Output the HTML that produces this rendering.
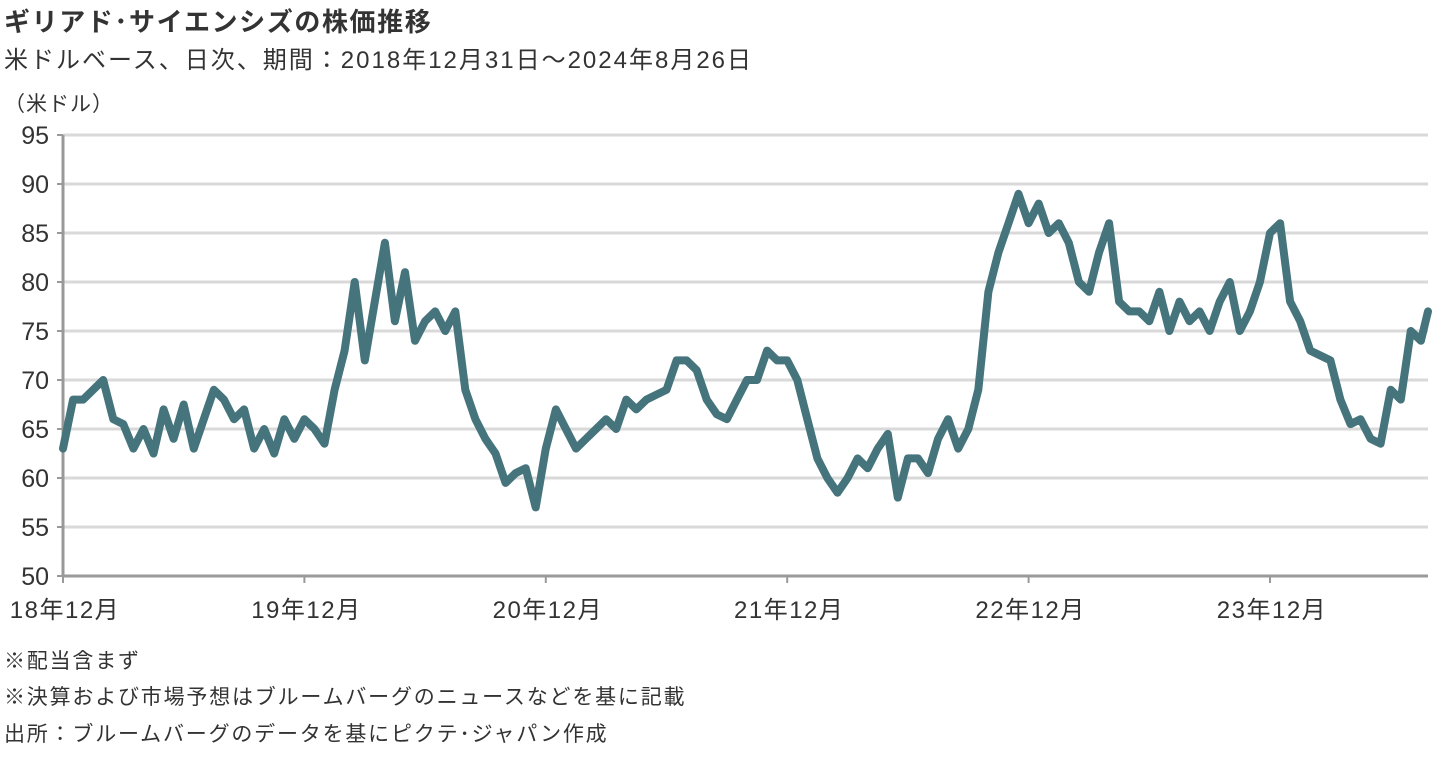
<!DOCTYPE html>
<html><head><meta charset="utf-8">
<style>
body{margin:0;background:#fff;width:1456px;height:759px;overflow:hidden;font-family:"Liberation Sans","Noto Sans CJK JP",sans-serif;color:#333}
.t{position:absolute;white-space:nowrap}
</style></head>
<body>
<div class="t" style="left:4px;top:2px;font-size:26px;font-weight:bold;color:#333;letter-spacing:1.6px">ギリアド･サイエンシズの株価推移</div>
<div class="t" style="left:4px;top:40px;font-size:24px;color:#333;letter-spacing:2px">米ドルベース、日次、期間：2018年12月31日～2024年8月26日</div>
<div class="t" style="left:4px;top:88px;font-size:21px;color:#333;letter-spacing:1px">（米ドル）</div>
<svg id="chart" width="1456" height="759" style="position:absolute;left:0;top:0"></svg>
<div class="t" style="left:4px;top:645px;font-size:21px;letter-spacing:1.8px">※配当含まず</div>
<div class="t" style="left:4px;top:681px;font-size:21px;letter-spacing:1.8px">※決算および市場予想はブルームバーグのニュースなどを基に記載</div>
<div class="t" style="left:4px;top:718px;font-size:21px;letter-spacing:1.8px">出所：ブルームバーグのデータを基にピクテ･ジャパン作成</div>
<script>
const yTicks=[50,55,60,65,70,75,80,85,90,95];
const xTickLabels=["18年12月","19年12月","20年12月","21年12月","22年12月","23年12月"];
const prices2019=[63,68,68,69,70,66,65.5,63,65,62.5,67,64,67.5,63,66,69,68,66,67,63,65,62.5,66,64];
const prices2020=[66,65,63.5,69,73,80,72,78,84,76,81,74,76,77,75,77,69,66,64,62.5,59.5,60.5,61,57];
const prices2021=[63,67,65,63,64,65,66,65,68,67,68,68.5,69,72,72,71,68,66.5,66,68,70,70,73,72];
const prices2022=[72,70,66,62,60,58.5,60,62,61,63,64.5,58,62,62,60.5,64,66,63,65,69,79,83,86,89];
const prices2023=[86,88,85,86,84,80,79,83,86,78,77,77,76,79,75,78,76,77,75,78,80,75,77,80];
const prices2024=[85,86,78,76,73,72.5,72,68,65.5,66,64,63.5,69,68,75,74,77];
const prices=[].concat(prices2019,prices2020,prices2021,prices2022,prices2023,prices2024);
const NS="http://www.w3.org/2000/svg";
const svg=document.getElementById('chart');
const X0=63,X1=1428,Y0=576,Y1=135,YEAR=241.4;
const yScale=v=>Y0-(v-50)/(95-50)*(Y0-Y1);
const xYear=i=>X0+i*YEAR;
const xIdx=i=>X0+i*(YEAR/24);
function mk(tag,attrs){const e=document.createElementNS(NS,tag);for(const k in attrs)e.setAttribute(k,attrs[k]);svg.appendChild(e);return e;}
yTicks.forEach(v=>{
  const y=yScale(v);
  if(v>50){const g=mk('line',{x1:X0,x2:X1,y1:y,y2:y,stroke:'#d9d9d9','stroke-width':3});
  
  }
  const tk=mk('line',{x1:X0-6,x2:X0,y1:y,y2:y,stroke:'#999','stroke-width':2});
  
  
  const t=mk('text',{x:X0-14,y:y+9,'text-anchor':'end','font-size':25,fill:'#333','font-family':'Liberation Sans, sans-serif'});
  t.textContent=v;
  
  
});
const ya=mk('line',{x1:X0,x2:X0,y1:Y1,y2:Y0,stroke:'#999','stroke-width':3});


const xa=mk('line',{x1:X0,x2:X1,y1:Y0,y2:Y0,stroke:'#999','stroke-width':3});


xTickLabels.forEach((l,i)=>{
  const x=xYear(i);
  const tk=mk('line',{x1:x,x2:x,y1:Y0,y2:Y0+7,stroke:'#999','stroke-width':2});
  
  
  const t=mk('text',{x:x+2,y:618,'text-anchor':'middle','font-size':24,'letter-spacing':'1.5',fill:'#333','font-family':'Liberation Sans, Noto Sans CJK JP, sans-serif'});
  t.textContent=l;
  
  
});
const d=prices.map((v,i)=>(i?'L':'M')+Math.min(xIdx(i),X1).toFixed(1)+' '+yScale(v).toFixed(1)).join(' ');
const p=mk('path',{d:d,fill:'none',stroke:'#45747c','stroke-width':8,'stroke-linejoin':'round','stroke-linecap':'round'});


</script>
</body></html>
